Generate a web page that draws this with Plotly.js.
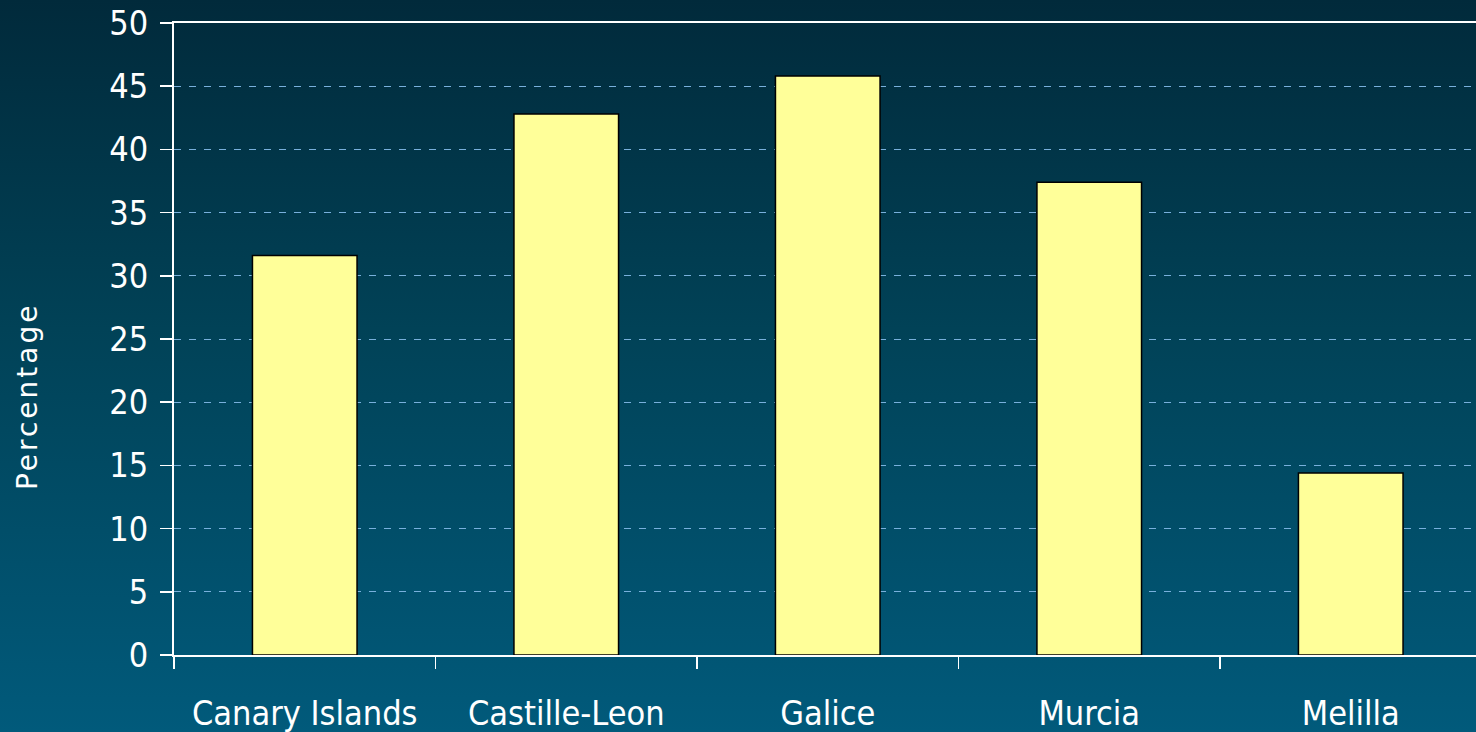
<!DOCTYPE html>
<html>
<head>
<meta charset="utf-8">
<script src="https://cdn.plot.ly/plotly-3.0.1.min.js"></script>
<style>
html, body { margin: 0; padding: 0; width: 1476px; height: 732px; overflow: hidden; }
body { background: linear-gradient(to bottom, #012a3b 0%, #014257 45%, #015a7b 100%); }
#chart { width: 1476px; height: 732px; }
.annotation-text { letter-spacing: 3px; }
</style>
</head>
<body>
<div id="chart"></div>
<script>
const categories = ["Canary Islands", "Castille-Leon", "Galice", "Murcia", "Melilla"];
const values = [31.6, 42.8, 45.8, 37.4, 14.4];
const yTickVals = [0, 5, 10, 15, 20, 25, 30, 35, 40, 45, 50];
const yTitle = "Percentage";

const narrow = '"Liberation Sans Narrow", "Arial Narrow", "DejaVu Sans Condensed", sans-serif';

const trace = {
  type: 'bar',
  x: categories,
  y: values,
  marker: { color: '#ffff99', line: { color: '#000000', width: 1.5 } },
  hoverinfo: 'x+y'
};

const layout = {
  width: 1476,
  height: 732,
  margin: { l: 174, r: 0, t: 23, b: 77 },
  paper_bgcolor: 'rgba(0,0,0,0)',
  plot_bgcolor: 'rgba(0,0,0,0)',
  bargap: 0.6,
  showlegend: false,
  font: { family: narrow, color: '#ffffff', size: 34 },
  xaxis: {
    type: 'category',
    range: [-0.5, 4.479],
    showline: true,
    linecolor: '#ffffff',
    linewidth: 2,
    mirror: true,
    ticks: 'outside',
    tickson: 'boundaries',
    ticklen: 12,
    tickwidth: 1.5,
    tickcolor: '#ffffff',
    showgrid: false,
    ticklabelstandoff: 27,
    tickfont: { family: narrow, size: 34, color: '#ffffff' },
    fixedrange: true
  },
  yaxis: {
    range: [0, 50],
    tickvals: yTickVals,
    ticktext: yTickVals.map(String),
    showline: true,
    linecolor: '#ffffff',
    linewidth: 2,
    ticks: 'outside',
    ticklen: 12,
    tickwidth: 1.5,
    tickcolor: '#ffffff',
    showgrid: true,
    gridcolor: '#79b0dc',
    gridwidth: 1,
    griddash: '7px,8px',
    zeroline: false,
    ticklabelstandoff: 5,
    tickfont: { family: narrow, size: 34, color: '#ffffff' },
    fixedrange: true
  },
  annotations: [{
    text: yTitle,
    xref: 'paper', yref: 'paper',
    x: -0.112, y: 0.41,
    xanchor: 'center', yanchor: 'middle',
    textangle: -90,
    showarrow: false,
    font: { family: '"DejaVu Sans", "Noto Sans", sans-serif', size: 28, color: '#ffffff' }
  }]
};

Plotly.newPlot('chart', [trace], layout, { displayModeBar: false, staticPlot: true });
</script>
</body>
</html>
